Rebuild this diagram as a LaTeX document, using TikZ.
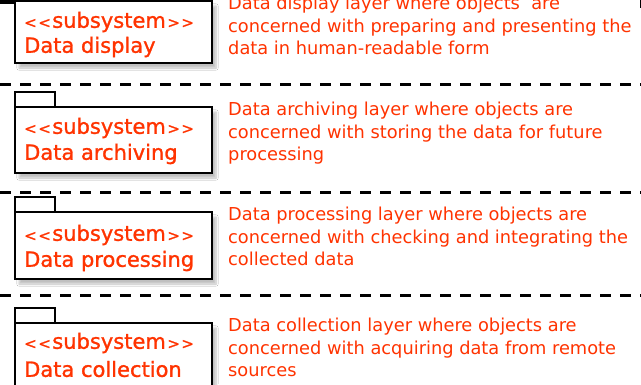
\documentclass[tikz,border=0pt]{standalone}
\usepackage{fontspec}
\setmainfont{DejaVu Sans}
\newfontfamily\boxfont{DejaVu Sans}[FakeBold=1.2]
\usetikzlibrary{shadows.blur}
\definecolor{txtred}{RGB}{255,51,0}
\newcommand{\chev}[1]{{\fontsize{15}{15}\selectfont #1}}
\newcommand{\stereo}{\chev{<}\kern1.5pt\chev{<}\kern1.5pt subsystem\kern1.5pt\chev{>}\kern1.5pt\chev{>}}
\begin{document}
\begin{tikzpicture}[x=1pt,y=-1pt,
  pkgbox/.style={draw=black, line width=2.6pt, fill=white, rectangle, inner sep=0pt,
    blur shadow={shadow xshift=4pt, shadow yshift=-5pt, shadow blur steps=6, shadow opacity=25}},
  pkgtab/.style={draw=black, line width=2.4pt, fill=white},
  layersep/.style={draw=black, line width=3pt, dash pattern=on 11pt off 9pt},
  boxtxt/.style={anchor=west, inner sep=0pt, text=txtred, font=\boxfont\fontsize{21}{22}\selectfont},
  desc/.style={anchor=north west, inner sep=0pt, align=left, text=txtred,
    font=\fontsize{17.8}{22.5}\selectfont}]
\useasboundingbox (0,0) rectangle (641,384);
\clip (0,0) rectangle (641,384);
\fill[white] (0,0) rectangle (641,384);
% cut-off pieces at the very top
\fill[black] (0,0) rectangle (15,4);
\fill[black] (639.5,0) rectangle (641,8);
% separators
\draw[layersep] (0,84) -- (641,84);
\draw[layersep] (0,192) -- (641,192);
\draw[layersep] (0,295) -- (641,295);
% package 1
\node[pkgbox, minimum width=197pt, minimum height=62pt] (b1) at (113.5,32) {};
\node[boxtxt] (s1) at (24,22) {\stereo};
\node[boxtxt] (n1) at (24,47) {Data display};
% package 2
\draw[pkgtab] (15,92) rectangle (55,107);
\node[pkgbox, minimum width=197pt, minimum height=66pt] (b2) at (113.5,140) {};
\node[boxtxt] (s2) at (24,128) {\stereo};
\node[boxtxt] (n2) at (24,154) {Data archiving};
% package 3
\draw[pkgtab] (15,197) rectangle (55,212);
\node[pkgbox, minimum width=197pt, minimum height=67pt] (b3) at (113.5,245.5) {};
\node[boxtxt] (s3) at (24,235) {\stereo};
\node[boxtxt] (n3) at (24,261) {Data processing};
% package 4
\draw[pkgtab] (15,308) rectangle (55,323);
\node[pkgbox, minimum width=197pt, minimum height=80pt] (b4) at (113.5,363) {};
\node[boxtxt] (s4) at (24,343) {\stereo};
\node[boxtxt] (n4) at (24,369) {Data collection};
% descriptions
\node[desc] (d1) at (228,-4) {Data display layer where objects~ are\\concerned with preparing and presenting the\\data in human-readable form};
\node[desc] (d2) at (228,102) {Data archiving layer where objects are\\concerned with storing the data for future\\processing};
\node[desc] (d3) at (228,207) {Data processing layer where objects are\\concerned with checking and integrating the\\collected data};
\node[desc] (d4) at (228,318) {Data collection layer where objects are\\concerned with acquiring data from remote\\sources};
\end{tikzpicture}
\end{document}
